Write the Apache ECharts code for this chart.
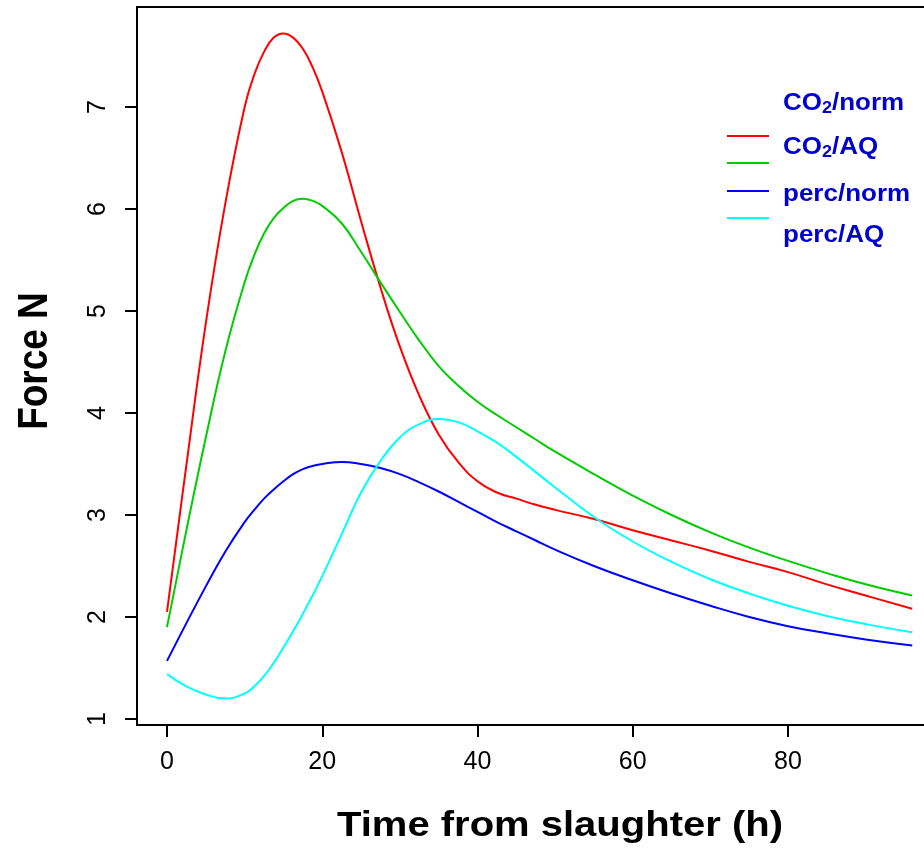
<!DOCTYPE html>
<html>
<head>
<meta charset="utf-8">
<script src="https://cdn.jsdelivr.net/npm/echarts@6/dist/echarts.min.js"></script>
<style>
html,body{margin:0;padding:0;background:#fff;}
#chart{width:924px;height:853px;}
</style>
</head>
<body>
<div id="chart"></div>
<script>
// ---- data ----
var hours   = [0,2.5,5,7.5,10,11.25,12.5,13.75,15,16.25,17.5,18.75,20,22.5,25,27.5,30,32.5,35,37.5,40,42.5,45,47.5,50,55,60,65,70,75,80,85,90,96];
var co2Norm = [2.05,3.49,4.88,6.05,7.00,7.32,7.54,7.68,7.72,7.68,7.57,7.39,7.15,6.56,5.88,5.23,4.65,4.17,3.79,3.52,3.33,3.22,3.16,3.10,3.05,2.96,2.85,2.75,2.65,2.54,2.44,2.32,2.21,2.08];
var co2AQ   = [1.90,2.85,3.76,4.60,5.28,5.55,5.76,5.91,6.01,6.08,6.10,6.08,6.03,5.86,5.58,5.28,4.99,4.71,4.46,4.27,4.11,3.98,3.86,3.74,3.62,3.40,3.19,3.00,2.83,2.68,2.55,2.43,2.32,2.21];
var percNorm= [1.57,1.94,2.30,2.64,2.93,3.05,3.16,3.25,3.33,3.40,3.45,3.48,3.50,3.52,3.50,3.46,3.40,3.32,3.23,3.13,3.03,2.93,2.84,2.75,2.66,2.50,2.36,2.23,2.11,2.00,1.91,1.84,1.78,1.72];
var percAQ  = [1.44,1.32,1.24,1.20,1.25,1.32,1.42,1.55,1.70,1.86,2.03,2.21,2.40,2.81,3.22,3.53,3.76,3.89,3.94,3.91,3.82,3.71,3.57,3.42,3.27,2.98,2.74,2.54,2.37,2.23,2.11,2.01,1.93,1.85];
var xTicks = [0,20,40,60,80];
var yTicks = [1,2,3,4,5,6,7];
var seriesNames = ['CO2/norm','CO2/AQ','perc/norm','perc/AQ'];
var seriesColors = ['#ff0000','#00cd00','#0000ff','#00ffff'];
var seriesValues = [co2Norm, co2AQ, percNorm, percAQ];
var legendLabels = ['{a|CO}{s|2}{a|/norm}','{a|CO}{s|2}{a|/AQ}','{a|perc/norm}','{a|perc/AQ}'];

function pairs(xs, ys){ return xs.map(function(x,i){ return [x, ys[i]]; }); }

var FONT = '"Liberation Sans", Arial, Helvetica, sans-serif';
var chart = echarts.init(document.getElementById('chart'), null, {renderer:'canvas'});

var series = seriesValues.map(function(v, i){
  return {
    name: seriesNames[i], type: 'line', data: pairs(hours, v),
    smooth: 0.45, showSymbol: false, symbol: 'none',
    lineStyle: {color: seriesColors[i], width: 2}, itemStyle:{color: seriesColors[i]},
    emphasis: {disabled: true}, animation: false
  };
});

var graphics = [
  {type:'text', x:560, y:826, scaleY:0.875,
   style:{text:'Time from slaughter (h)', fontSize:40, fontWeight:'bold', fontFamily:FONT, fill:'#000', align:'center', verticalAlign:'middle'}},
  {type:'text', x:35, y:361, rotation:Math.PI/2, scaleX:0.88,
   style:{text:'Force N', fontSize:42, fontWeight:'bold', fontFamily:FONT, fill:'#000', align:'center', verticalAlign:'middle'}}
];
var legendLineY = [136, 163, 191, 218];
var legendTextY = [103, 147, 194, 235];
legendLabels.forEach(function(t, i){
  graphics.push({type:'line', shape:{x1:727, y1:legendLineY[i], x2:769, y2:legendLineY[i]},
    style:{stroke: seriesColors[i], lineWidth:2}});
  graphics.push({type:'text', x:783, y:legendTextY[i], scaleY:0.92,
    style:{text:t, align:'left', verticalAlign:'middle',
      rich:{
        a:{fontSize:26, fontWeight:'bold', fontFamily:FONT, fill:'#0000cd', lineHeight:30},
        s:{fontSize:18, fontWeight:'bold', fontFamily:FONT, fill:'#0000cd', lineHeight:12, verticalAlign:'bottom'}
      }}});
});

chart.setOption({
  animation: false,
  backgroundColor: '#fff',
  grid: {left:137, top:7, right:-65, bottom:128, show:true, borderColor:'#000', borderWidth:2,
         backgroundColor:'transparent', containLabel:false, outerBoundsMode:'none'},
  xAxis: {
    type:'value', min:-3.865, max:105.89,
    axisLine:{show:false, onZero:false},
    axisTick:{show:true, length:12, customValues:xTicks, lineStyle:{color:'#000', width:2}},
    axisLabel:{customValues:xTicks, fontSize:25, fontFamily:FONT, color:'#000', margin:25},
    splitLine:{show:false}
  },
  yAxis: {
    type:'value', min:0.941, max:7.98,
    axisLine:{show:false, onZero:false},
    axisTick:{show:true, length:12, customValues:yTicks, lineStyle:{color:'#000', width:2}},
    axisLabel:{customValues:yTicks, fontSize:25, fontFamily:FONT, color:'#000', rotate:90, margin:26},
    splitLine:{show:false}
  },
  series: series,
  graphic: graphics
});
</script>
</body>
</html>
